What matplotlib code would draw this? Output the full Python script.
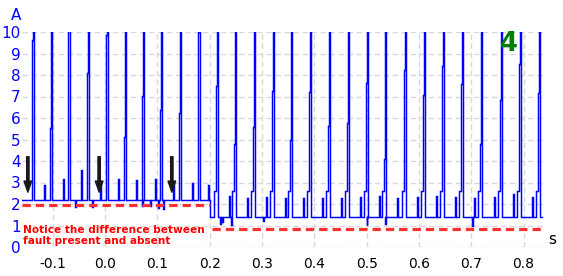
import numpy as np
import matplotlib.pyplot as plt

plt.rcParams['axes.unicode_minus'] = False
plt.rcParams['lines.scale_dashes'] = False

# main firing events: time of the tall (clipped) spike, height of the pulse just before it
event_t = [-0.1377, -0.1033, -0.0683, -0.0319, 0.0033, 0.0382, 0.0732, 0.1076, 0.1434, 0.1792,
           0.2136, 0.2486, 0.2849, 0.3206, 0.3551, 0.3920, 0.4283, 0.4646, 0.5010, 0.5358,
           0.5736, 0.6094, 0.6457, 0.6826, 0.7189, 0.7566, 0.7935, 0.8298]
pulse_h = [9.63, 5.55, 10.5, 8.1, 9.87, 5.13, 7.02, 6.37, 6.22, 10.0,
           7.49, 4.8, 5.58, 7.26, 5.0, 7.2, 5.63, 5.77, 7.63, 4.1,
           8.23, 7.07, 8.42, 7.58, 4.8, 6.84, 8.51, 7.15]

# small spikes between events
small_t = [-0.1166, -0.0813, -0.0459, -0.0105, 0.0249, 0.0593, 0.0946, 0.1300, 0.1654, 0.1975,
           0.2361, 0.2706, 0.3069, 0.3432, 0.3776, 0.4140, 0.4503, 0.4866, 0.5229, 0.5574,
           0.5956, 0.6319, 0.6692, 0.7055, 0.7428, 0.7792, 0.8155]
small_h = [2.9, 3.15, 3.6, 3.0, 3.15, 3.1, 3.15, 3.0, 3.0, 2.9,
           2.37, 2.3, 2.34, 2.26, 2.26, 2.26, 2.26, 2.34, 2.37, 2.26,
           2.34, 2.37, 2.34, 2.26, 2.34, 2.45, 2.34]

# short dips below the baseline
dip_t = [-0.057, -0.025, 0.0707, 0.0857, 0.1014, 0.1109, 0.2199, 0.2235, 0.2415, 0.3021, 0.5004, 0.5354, 0.7016]
dip_v = [1.86, 1.86, 1.9, 1.92, 1.8, 1.78, 1.07, 1.18, 1.02, 1.2, 1.02, 1.07, 0.99]

base_fault = 2.18
base_ok = 1.40
t_change = 0.2005
t_start, t_end = -0.159, 0.836

xticks = [-0.1, 0.0, 0.1, 0.2, 0.3, 0.4, 0.5, 0.6, 0.7, 0.8]
yticks = list(range(0, 11))
arrow_t = [-0.1478, -0.0115, 0.1275]


def base(t):
    return base_fault if t < t_change else base_ok


features = []
for t, h in zip(event_t, pulse_h):
    ts = t - 0.0024
    b = base(ts)
    pts = []
    if ts > t_change:
        pts += [(ts - 0.0035, b), (ts - 0.0035, 2.6), (ts, 2.6)]
    else:
        pts += [(ts, b)]
    pts += [(ts, h), (t, h), (t, 12), (t + 0.0014, 12), (t + 0.0014, b)]
    features.append(pts)
for t, h in zip(small_t, small_h):
    b = base(t)
    features.append([(t, b), (t, h), (t + 0.002, h), (t + 0.002, b)])
for t, v in zip(dip_t, dip_v):
    b = base(t)
    features.append([(t, b), (t, v), (t + 0.001, v), (t + 0.001, b)])
features.append([(t_change, base_fault), (t_change, base_ok)])
features.sort(key=lambda p: p[0][0])

xs = [t_start]
ys = [base_fault]
for f in features:
    for x, y in f:
        xs.append(x)
        ys.append(y)
xs.append(t_end)
ys.append(base_ok)

fig = plt.figure(figsize=(5.63, 2.76), dpi=100)
ax = fig.add_axes([22 / 563, 29 / 276, 523 / 563, 215 / 276])
ax.set_xlim(-0.159, 0.841)
ax.set_ylim(0, 10)
for s in ax.spines.values():
    s.set_visible(False)
ax.grid(True, color='#d9d9d9', linestyle=(0, (4, 2.5)), linewidth=1.0)
ax.set_axisbelow(True)

ax.plot(xs, ys, color='#0000ff', lw=1.05, solid_joinstyle='miter')

# red reference lines
ax.plot([t_start, 0.2], [1.95, 1.95], color='#ff3030', lw=2.3, dashes=(6, 3.6))
ax.plot([0.205, t_end], [0.85, 0.85], color='#ff3030', lw=2.3, dashes=(6, 3.6))

for t in arrow_t:
    ax.annotate('', xy=(t, 2.55), xytext=(t, 4.2),
                arrowprops=dict(arrowstyle='simple,head_width=0.55,head_length=0.8,tail_width=0.17',
                                color='#1a1a1a', shrinkA=0, shrinkB=0))

ax.text(-0.158, 0.53, 'Notice the difference between\nfault present and absent',
        color='#ff0000', fontsize=7.6, fontweight='bold', ha='left', va='center', linespacing=1.15)

ax.set_xticks(xticks)
ax.set_xticklabels(['%.1f' % v for v in xticks])
ax.set_yticks(yticks)
ax.tick_params(axis='both', length=0)
ax.tick_params(axis='x', labelsize=10, pad=7, colors='black')
ax.tick_params(axis='y', labelsize=11, pad=1, labelcolor='#0000ff')

fig.text(16 / 563, 1 - 15.5 / 276, 'A', color='#0000ff', fontsize=11, ha='center', va='center')
fig.text(552 / 563, 1 - 240 / 276, 's', color='black', fontsize=11, ha='center', va='center')
fig.text(509 / 563, 1 - 44.5 / 276, '4', color='#008000', fontsize=18.5, fontweight='bold',
         ha='center', va='center')

fig.savefig('out.png', dpi=100)
